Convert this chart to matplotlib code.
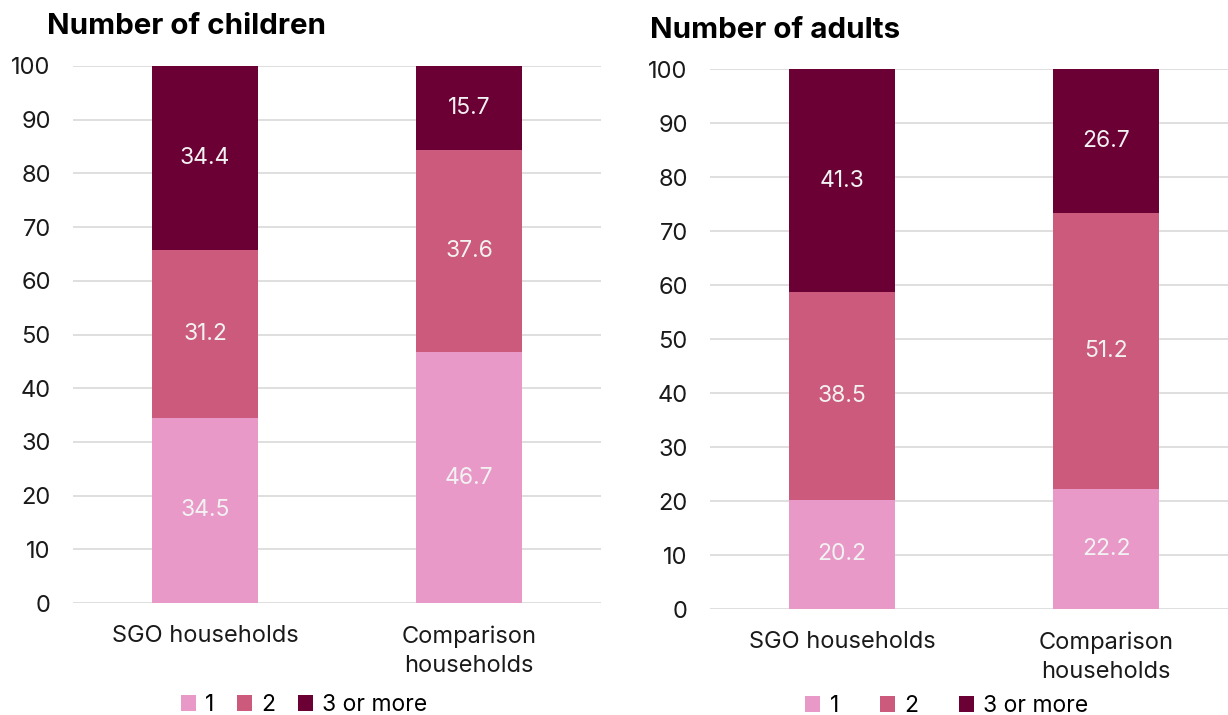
import matplotlib
matplotlib.use("Agg")
import matplotlib.pyplot as plt
from matplotlib.patches import Patch

plt.rcParams['font.family'] = ['Inter', 'DejaVu Sans']

categories = ["SGO households", "Comparison\nhouseholds"]
series_names = ["1", "2", "3 or more"]
colors = ["#E899C8", "#CC5A7C", "#6B0034"]

children_1 = [34.5, 46.7]
children_2 = [31.2, 37.6]
children_3 = [34.4, 15.7]

adults_1 = [20.2, 22.2]
adults_2 = [38.5, 51.2]
adults_3 = [41.3, 26.7]

yticks = [0, 10, 20, 30, 40, 50, 60, 70, 80, 90, 100]

fig = plt.figure(figsize=(12.28, 7.15), dpi=100)

W, H = 1228, 715

def panel(rect, title, s1, s2, s3, title_xy, legend_xy, colspace):
    ax = fig.add_axes(rect)
    x = list(range(len(categories)))
    bottoms = [0] * len(x)
    for vals, c in zip([s1, s2, s3], colors):
        ax.bar(x, vals, 0.4, bottom=bottoms, color=c, zorder=3)
        for xi, b, v in zip(x, bottoms, vals):
            ax.text(xi, b + v / 2, f"{v:.1f}", ha="center", va="center",
                    color="#F2F2F2", fontsize=16.5, zorder=4)
        bottoms = [b + v for b, v in zip(bottoms, vals)]
    ax.set_xlim(-0.5, 1.5)
    ax.set_ylim(0, 100)
    ax.set_yticks(yticks)
    ax.set_xticks(x)
    ax.set_xticklabels(categories, fontsize=17, color="#1a1a1a", linespacing=1.45)
    ax.tick_params(axis="both", length=0, labelsize=17, colors="#1a1a1a")
    ax.tick_params(axis="y", pad=16)
    ax.tick_params(axis="x", pad=16)
    ax.grid(axis="y", color="#D9D9D9", linewidth=1.2, zorder=0)
    for s in ax.spines.values():
        s.set_visible(False)
    fig.text(title_xy[0] / W, 1 - title_xy[1] / H, title, fontsize=21.3,
             fontweight="bold", ha="left", va="center", color="#000000")
    handles = [Patch(facecolor=c, label=n) for c, n in zip(colors, series_names)]
    fig.legend(handles=handles, loc="center", ncol=3, frameon=False,
               bbox_to_anchor=(legend_xy[0] / W, 1 - legend_xy[1] / H),
               fontsize=16.5, handlelength=0.65, handleheight=0.65,
               handletextpad=0.4, columnspacing=colspace)
    return ax

panel([73 / W, 1 - 603 / H, 528 / W, (603 - 66) / H], "Number of children",
      children_1, children_2, children_3, (47, 26), (304, 705), 1.0)
panel([710 / W, 1 - 609 / H, 528 / W, (609 - 69) / H], "Number of adults",
      adults_1, adults_2, adults_3, (650, 30), (947, 706), 1.8)

fig.savefig("out.png", dpi=100)
